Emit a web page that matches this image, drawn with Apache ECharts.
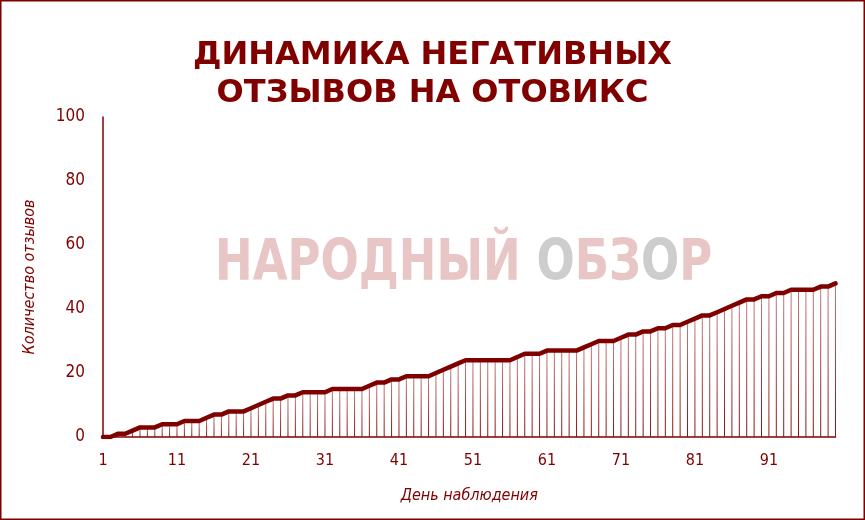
<!DOCTYPE html>
<html>
<head>
<meta charset="utf-8">
<script src="https://cdn.jsdelivr.net/npm/echarts@6/dist/echarts.min.js"></script>
<style>
html,body{margin:0;padding:0;background:#fff;}
#chart{width:865px;height:520px;}
</style>
</head>
<body>
<div id="chart"></div>
<script>
// Days 1..100
const days = [];
for (let i = 1; i <= 100; i++) days.push(String(i));

const negativeReviews = [
  0, 0, 1, 1, 2, 3, 3, 3, 4, 4,
  4, 5, 5, 5, 6, 7, 7, 8, 8, 8,
  9, 10, 11, 12, 12, 13, 13, 14, 14, 14,
  14, 15, 15, 15, 15, 15, 16, 17, 17, 18,
  18, 19, 19, 19, 19, 20, 21, 22, 23, 24,
  24, 24, 24, 24, 24, 24, 25, 26, 26, 26,
  27, 27, 27, 27, 27, 28, 29, 30, 30, 30,
  31, 32, 32, 33, 33, 34, 34, 35, 35, 36,
  37, 38, 38, 39, 40, 41, 42, 43, 43, 44,
  44, 45, 45, 46, 46, 46, 46, 47, 47, 48
];

const titleText = 'ДИНАМИКА НЕГАТИВНЫХ\nОТЗЫВОВ НА ОТОВИКС';
const yAxisTitle = 'Количество отзывов';
const xAxisTitle = 'День наблюдения';

const dark = '#800000';
const labelFont = "'Liberation Sans Narrow', 'DejaVu Sans Condensed', 'Roboto', sans-serif";
const wmFont = "bold 45px 'DejaVu Sans', sans-serif";

const chart = echarts.init(document.getElementById('chart'), null, {renderer: 'canvas'});
chart.setOption({
  animation: false,
  backgroundColor: '#ffffff',
  title: {
    text: titleText,
    left: 'center',
    top: 32,
    textStyle: {
      fontFamily: "'DejaVu Sans', sans-serif",
      fontWeight: 'bold',
      fontSize: 32,
      lineHeight: 38,
      color: dark
    }
  },
  graphic: [
    {
      type: 'rect',
      z: 100,
      shape: {x: 0.75, y: 0.75, width: 863.5, height: 518.5},
      style: {fill: 'none', stroke: dark, lineWidth: 1.5},
      silent: true
    },
    {
      type: 'text',
      z: -1,
      x: 215,
      y: 265,
      scaleY: 1.28,
      silent: true,
      style: {
        rich: {
          p: {fill: '#e8c6c6', font: wmFont},
          g: {fill: '#cdcdcd', font: wmFont}
        },
        text: '{p|НАРОДНЫЙ }{g|О}{p|БЗ}{g|О}{p|Р}',
        verticalAlign: 'middle',
        align: 'left'
      }
    }
  ],
  grid: {left: 103, right: 29.5, top: 117, bottom: 83, containLabel: false},
  xAxis: {
    type: 'category',
    data: days,
    boundaryGap: false,
    name: xAxisTitle,
    nameLocation: 'middle',
    nameGap: 51,
    nameTextStyle: {color: dark, fontStyle: 'italic', fontSize: 16, fontFamily: labelFont},
    axisLine: {show: true, lineStyle: {color: dark, width: 1.5}},
    axisTick: {show: false},
    axisLabel: {
      interval: 9,
      color: dark,
      fontSize: 16,
      fontFamily: labelFont,
      margin: 16
    },
    splitLine: {show: false}
  },
  yAxis: {
    type: 'value',
    min: 0,
    max: 100,
    interval: 20,
    name: yAxisTitle,
    nameLocation: 'middle',
    nameGap: 65,
    nameRotate: 90,
    nameTextStyle: {color: dark, fontStyle: 'italic', fontSize: 16, fontFamily: labelFont},
    axisLine: {show: true, lineStyle: {color: dark, width: 1.5}},
    axisTick: {show: false},
    axisLabel: {color: dark, fontSize: 17, fontFamily: labelFont, margin: 18},
    splitLine: {show: false}
  },
  series: [
    {
      type: 'bar',
      data: negativeReviews,
      barWidth: 1,
      silent: true,
      itemStyle: {
        color: new echarts.graphic.LinearGradient(0, 0, 0, 1, [
          {offset: 0, color: '#c47a7a'},
          {offset: 1, color: '#8a1010'}
        ])
      },
      z: 1
    },
    {
      type: 'line',
      data: negativeReviews,
      showSymbol: false,
      symbol: 'none',
      silent: true,
      lineStyle: {color: dark, width: 4.5, join: 'round', cap: 'round'},
      z: 3
    }
  ]
});
</script>
</body>
</html>
